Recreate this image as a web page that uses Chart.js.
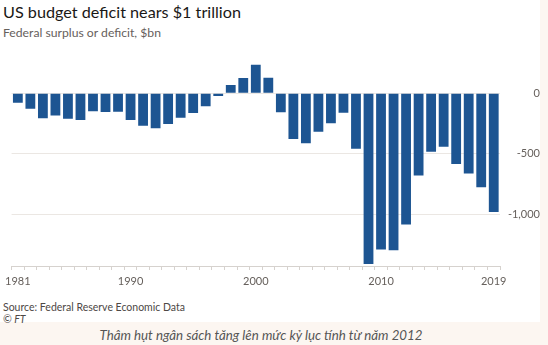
<!DOCTYPE html>
<html lang="en">
<head>
    <meta charset="UTF-8">
    <title>US budget deficit</title>
    <script src="https://cdn.jsdelivr.net/npm/chart.js"></script>
    <style>
        body {
            margin: 0;
            width: 548px;
            height: 345px;
            background: #fcf6f1;
            font-family: Lato, "Open Sans", sans-serif;
            position: relative;
            overflow: hidden;
        }
        .panel {
            position: absolute;
            left: 0; top: 0;
            width: 540px; height: 322px;
            background: #fff;
        }
        .title {
            position: absolute; left: 3px; top: 2px;
            font-size: 16.2px; color: #1a1816;
        }
        .subtitle {
            position: absolute; left: 3px; top: 25px;
            font-size: 12.2px; color: #66605c;
        }
        .source {
            position: absolute; left: 3px; top: 301px;
            font-size: 10.5px; color: #4d4845; line-height: 12px;
        }
        .caption {
            position: absolute; left: 0; width: 522px; top: 327px;
            text-align: center; font-size: 13.3px; font-style: italic; color: #555;
        }
        canvas { position: absolute; left: 0; top: 0; }
    </style>
</head>
<body>
    <div class="panel"></div>
    <div class="title">US budget deficit nears $1 trillion</div>
    <div class="subtitle">Federal surplus or deficit, $bn</div>
    <canvas id="barChart" width="548" height="300"></canvas>
    <div class="source">Source: Federal Reserve Economic Data<br><i>&copy; FT</i></div>
    <div class="caption">Thâm hụt ngân sách tăng lên mức kỷ lục tính từ năm 2012</div>

    <script>
        const years = [];
        for (let y = 1981; y <= 2019; y++) years.push(String(y));

        const deficit = [
            -79, -128, -208, -185, -212, -221, -150, -155, -153, -221,
            -269, -290, -255, -203, -164, -107, -22, 69, 126, 236,
            128, -158, -378, -413, -318, -248, -161, -459, -1413, -1294,
            -1300, -1087, -680, -485, -442, -585, -665, -779, -984
        ];

        const shownYears = ['1981', '1990', '2000', '2010', '2019'];
        const yTicks = [-1000, -500, 0];

        const ctx = document.getElementById('barChart').getContext('2d');
        new Chart(ctx, {
            type: 'bar',
            data: {
                labels: years,
                datasets: [{
                    data: deficit,
                    backgroundColor: '#1d5592',
                    barPercentage: 0.9,
                    categoryPercentage: 0.87
                }]
            },
            options: {
                responsive: false,
                animation: false,
                layout: { padding: { top: 57, left: 7, right: 8, bottom: 8 } },
                plugins: { legend: { display: false }, tooltip: { enabled: false } },
                scales: {
                    x: {
                        grid: { display: true, drawOnChartArea: false, tickLength: 4, color: '#d6d2ce' },
                        border: { display: true, color: '#d6d2ce' },
                        ticks: {
                            autoSkip: false,
                            maxRotation: 0,
                            padding: 5,
                            color: '#66605c',
                            font: { family: 'Lato', size: 11 },
                            callback: function (v) {
                                const l = this.getLabelForValue(v);
                                return shownYears.includes(l) ? l : '';
                            }
                        },
                        afterFit: s => { s.height = 26; }
                    },
                    y: {
                        position: 'right',
                        min: -1430,
                        max: 300,
                        afterBuildTicks: s => { s.ticks = yTicks.map(v => ({ value: v })); },
                        grid: { color: '#ebe7e3', drawTicks: false },
                        border: { display: false },
                        ticks: {
                            crossAlign: 'far',
                            padding: 7,
                            color: '#66605c',
                            font: { family: 'Lato', size: 11 },
                            callback: v => v.toLocaleString('en-US')
                        },
                        afterFit: s => { s.width = 40; }
                    }
                }
            }
        });
    </script>
</body>
</html>
